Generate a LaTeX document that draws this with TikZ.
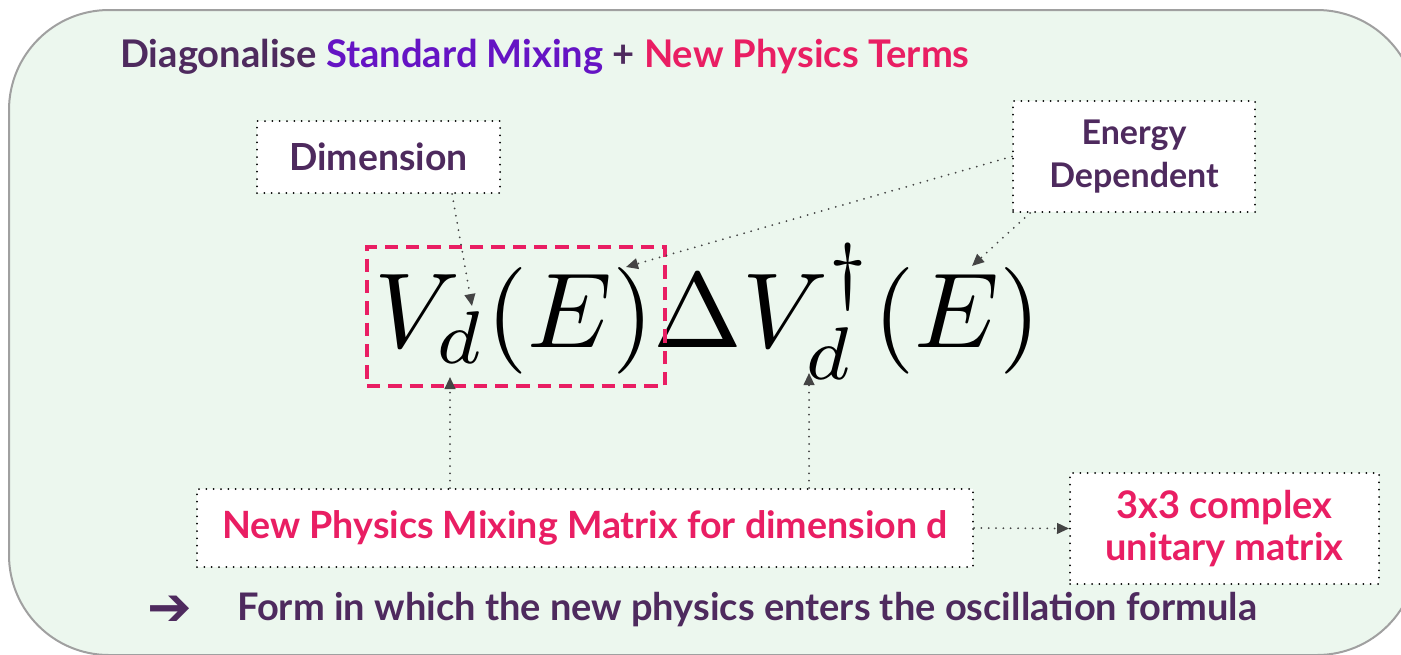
\RequirePackage{fix-cm}
\documentclass[tikz,border=0pt]{standalone}
\usepackage[no-math]{fontspec}
\setmainfont{Lato}
\newfontfamily\symfont{DejaVu Sans}
\usetikzlibrary{arrows.meta}
\definecolor{bgfill}{HTML}{ECF7EE}
\definecolor{bgline}{HTML}{A0A0A0}
\definecolor{dpurple}{HTML}{4E2A5E}
\definecolor{vpurple}{HTML}{6514C4}
\definecolor{npink}{HTML}{E91E63}
\definecolor{arrgray}{HTML}{444444}
\tikzset{
  dotbox/.style={draw=black, fill=white, line width=1.5pt, dash pattern=on 0pt off 5.5pt, line cap=round, inner sep=0pt, align=center},
  ptr/.style={draw=arrgray, line width=1.5pt, dash pattern=on 0pt off 5.5pt, line cap=round, -{Triangle[length=9pt,width=8pt]}},
  lbl/.style={font=\bfseries\fontsize{28}{32}\selectfont},
}
\begin{document}
\begin{tikzpicture}[x=0.75pt,y=-0.75pt]
\useasboundingbox (0,0) rectangle (1401,654);
\clip (0,0) rectangle (1401,654);
% background panel
\path[fill=bgfill, draw=bgline, line width=1.5pt, rounded corners=75pt] (9,10) rectangle (1417,655);
% title
\node[anchor=base west, inner sep=0pt, font=\bfseries\fontsize{28.6}{32}\selectfont] (title) at (120,67)
  {\color{dpurple}Diagonalise \color{vpurple}Standard Mixing \color{dpurple}+ \color{npink}New Physics Terms};
% label boxes
\node[dotbox, lbl, text=dpurple, minimum width=243*0.75pt, minimum height=72*0.75pt] (dim) at (378.5,157) {Dimension};
\node[dotbox, text=dpurple, font=\bfseries\fontsize{25.5}{32}\selectfont, minimum width=242*0.75pt, minimum height=111*0.75pt] (en) at (1134,156.5) {Energy\\Dependent};
\node[dotbox, text=npink, font=\bfseries\fontsize{28.2}{32}\selectfont, minimum width=776*0.75pt, minimum height=78*0.75pt] (np) at (585,528) {New Physics Mixing Matrix for dimension d};
\node[dotbox, text=npink, font=\bfseries\fontsize{28.5}{31}\selectfont, minimum width=309*0.75pt, minimum height=111*0.75pt] (cx) at (1224.5,528.5) {3x3 complex\\unitary matrix};
% formula
\node[anchor=base west, inner sep=0pt] (formula) at (374,347) {\scalebox{8.0}{\fontsize{10}{12}\selectfont $V_d(E)\Delta V_d^\dagger(E)$}};
\node[draw=npink, line width=2.3pt, dash pattern=on 10pt off 6pt, minimum width=298*0.75pt, minimum height=139*0.75pt, inner sep=0pt] (pbox) at (516,316.5) {};
% arrow targets and start columns
\coordinate (tipd) at (472,306);
\coordinate (tipparen) at (626,267);
\coordinate (tipE) at (972,266);
\coordinate (tipV1) at (450,377);
\coordinate (tipV2) at (809,373);
\coordinate (xdim) at (452,0);
\coordinate (xen) at (1030,0);
\coordinate (xv1) at (450,0);
\coordinate (xv2) at (809,0);
% connectors
\draw[ptr] (dim.south -| xdim) -- (tipd);
\draw[ptr] (en.west) -- (tipparen);
\draw[ptr] (en.south -| xen) -- (tipE);
\draw[ptr] (np.north -| xv1) -- (tipV1);
\draw[ptr] (np.north -| xv2) -- (tipV2);
\draw[ptr] (np.east) -- (cx.west);
% bottom line
\node[inner sep=0pt, text=dpurple, font=\symfont\bfseries\fontsize{40}{44}\selectfont] (bullet) at (170,611) {➔};
\node[anchor=base west, inner sep=0pt, text=dpurple, font=\bfseries\fontsize{28.5}{32}\selectfont] (form) at (237,620) {Form in which the new physics enters the oscillation formula};
\end{tikzpicture}
\end{document}
